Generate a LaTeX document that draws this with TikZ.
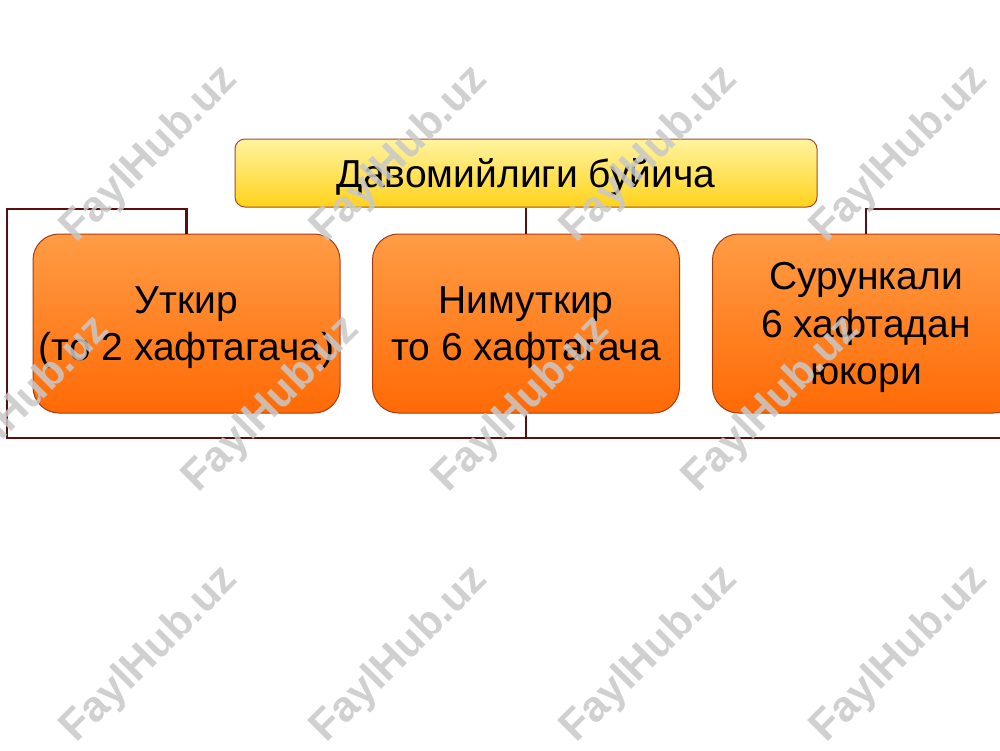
\documentclass[tikz,border=0pt]{standalone}
\usepackage{fontspec}
\setmainfont{Liberation Sans}
\definecolor{linec}{HTML}{5A0E0E}
\definecolor{ybord}{HTML}{A8482A}
\definecolor{obord}{HTML}{A83A12}
\definecolor{ytop}{HTML}{FFF4A0}
\definecolor{ybot}{HTML}{FFD21A}
\definecolor{otop}{HTML}{FF9C45}
\definecolor{obot}{HTML}{FF6A05}
\definecolor{wmark}{HTML}{C8C8C8}
\tikzset{
  topbox/.style={draw=ybord, line width=1pt, rounded corners=10pt, top color=ytop, bottom color=ybot,
    minimum width=582pt, minimum height=68pt, inner sep=0pt},
  catbox/.style={draw=obord, line width=1pt, rounded corners=26pt, top color=otop, bottom color=obot,
    minimum width=307pt, minimum height=179pt, inner sep=0pt},
  boxtext/.style={inner sep=0pt, font=\fontsize{39}{47.5}\selectfont, align=center},
  conn/.style={draw=linec, line width=2.6pt},
  wm/.style={rotate=45, text=wmark, opacity=0.85, font=\fontsize{43}{43}\selectfont\bfseries}
}
\begin{document}
\begin{tikzpicture}[x=1pt,y=-1pt]
\useasboundingbox (0,0) rectangle (1000,750);
\clip (0,0) rectangle (1000,750);
\fill[white] (0,0) rectangle (1000,750);
\coordinate (lt) at (7,209);
\coordinate (lb) at (7,438);
\coordinate (rb) at (1010,438);
\coordinate (rt) at (1010,209);
\node[topbox] (T) at (526,173) {};
\node[catbox] (L) at (186.5,323.5) {};
\node[catbox] (M) at (526,323.5) {};
\node[catbox] (R) at (866,323.5) {};
\node[boxtext] (Tt) at ([yshift=-4pt]T.center) {Давомийлиги буйича};
\node[boxtext] (Lt) at ([yshift=-4pt]L.center) {Уткир\\(то 2 хафтагача)};
\node[boxtext] (Mt) at ([yshift=-4pt]M.center) {Нимуткир\\то 6 хафтагача};
\node[boxtext] (Rt) at ([yshift=-4pt]R.center) {Сурункали\\6 хафтадан\\юкори};
\draw[conn] (L.north) |- (lt) -- (lb) -- (rb);
\draw[conn] (T.south) -- (M.north);
\draw[conn] (M.south) -- (M.south |- lb);
\draw[conn] (R.north) |- (rt);
\foreach \x/\y [count=\i] in {150/155,400/155,650/155,900/155,22/405,272/405,522/405,772/405,150/655,400/655,650/655,900/655}{
  \node[wm] (w\i) at (\x,\y) {FaylHub.uz};
}
\end{tikzpicture}
\end{document}
